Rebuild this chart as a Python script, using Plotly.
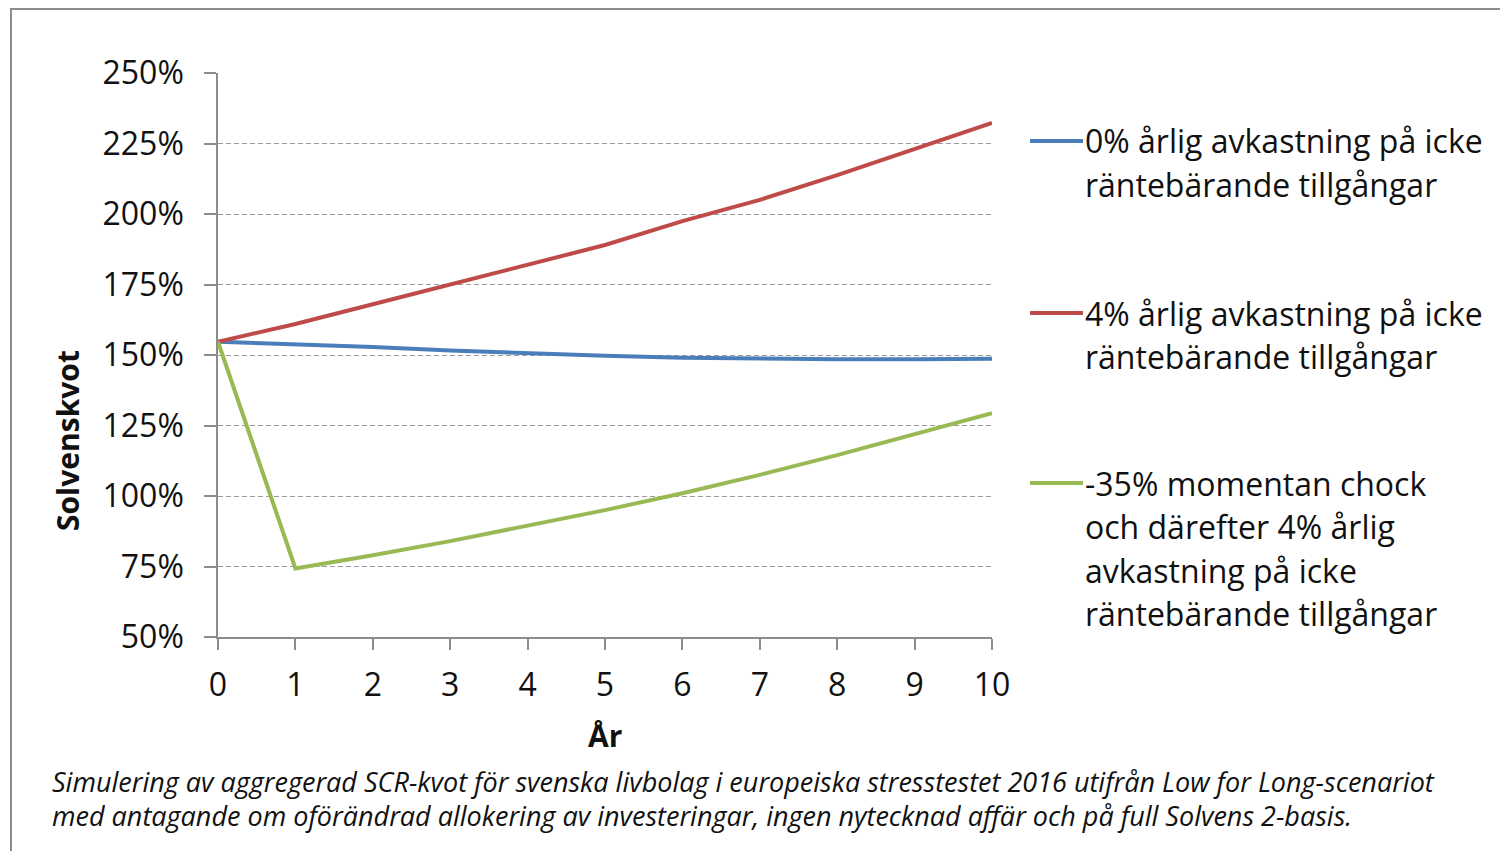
import plotly.graph_objects as go

# ---- data ----
years = [0, 1, 2, 3, 4, 5, 6, 7, 8, 9, 10]
scen_0pct = [154.7, 153.8, 152.8, 151.6, 150.6, 149.7, 149.0, 148.6, 148.5, 148.5, 148.7]
scen_4pct = [154.7, 161.0, 168.0, 175.0, 182.0, 189.0, 197.5, 205.0, 213.8, 223.0, 232.3]
scen_shock = [154.7, 74.3, 79.0, 84.0, 89.5, 95.0, 101.0, 107.5, 114.5, 121.8, 129.4]

series_names = [
    ["0% årlig avkastning på icke", "räntebärande tillgångar"],
    ["4% årlig avkastning på icke", "räntebärande tillgångar"],
    ["-35% momentan chock", "och därefter 4% årlig", "avkastning på icke", "räntebärande tillgångar"],
]
series_values = [scen_0pct, scen_4pct, scen_shock]
series_colors = ["#4A7EBB", "#BE4B48", "#98B954"]

y_ticks = [50, 75, 100, 125, 150, 175, 200, 225, 250]
y_ticklabels = [f"{v}%" for v in y_ticks]

x_title = "År"
y_title = "Solvenskvot"
caption_lines = [
    "Simulering av aggregerad SCR-kvot för svenska livbolag i europeiska stresstestet 2016 utifrån Low for Long-scenariot",
    "med antagande om oförändrad allokering av investeringar, ingen nytecknad affär och på full Solvens 2-basis.",
]

# ---- layout geometry (page pixels; page body has an 8px margin) ----
OFF = 8
W, H = 1508 - OFF, 851 - OFF
L, R, T, B = 218 - OFF, 992 - OFF, 73 - OFF, 637 - OFF
pw, ph = R - L, B - T


def px(x):
    return (x - OFF - L) / pw


def py(y):
    return (B - (y - OFF)) / ph


FONT = "'Open Sans', Lato, sans-serif"
TXT = "#111111"

fig = go.Figure()
for name, vals, col in zip(series_names, series_values, series_colors):
    fig.add_trace(go.Scatter(
        x=years, y=vals, mode="lines", name=" ".join(name),
        line=dict(color=col, width=4), showlegend=False,
    ))

shapes = []
annotations = []

# Legend (manual, to match line spacing)
legend_first_y = [141, 313, 483]
line_gap = 43.5
for lines, col, y0 in zip(series_names, series_colors, legend_first_y):
    shapes.append(dict(type="line", xref="paper", yref="paper",
                       x0=px(1030), x1=px(1083), y0=py(y0), y1=py(y0),
                       line=dict(color=col, width=4)))
    for i, ln in enumerate(lines):
        annotations.append(dict(
            text=ln, xref="paper", yref="paper", x=px(1083), y=py(y0 + i * line_gap),
            xanchor="left", yanchor="middle", showarrow=False,
            font=dict(family=FONT, size=32, color=TXT),
        ))

# Axis titles
annotations.append(dict(text=f"<b>{x_title}</b>", xref="paper", yref="paper",
                        x=px(605), y=py(735), xanchor="center", yanchor="middle",
                        showarrow=False, font=dict(family=FONT, size=30, color=TXT)))
annotations.append(dict(text=f"<b>{y_title}</b>", xref="paper", yref="paper",
                        x=px(67), y=py(441), xanchor="center", yanchor="middle",
                        textangle=-90, showarrow=False,
                        font=dict(family=FONT, size=30, color=TXT)))

# Caption
for i, ln in enumerate(caption_lines):
    annotations.append(dict(text=f"<i>{ln}</i>", xref="paper", yref="paper",
                            x=px(50), y=py(781 + i * 34), xanchor="left", yanchor="middle",
                            showarrow=False, font=dict(family=FONT, size=27, color=TXT)))

# Frame
frame_col = "#8c8c8c"
shapes.append(dict(type="line", xref="paper", yref="paper", x0=px(10), x1=px(1515),
                   y0=py(9), y1=py(9), line=dict(color=frame_col, width=2)))
shapes.append(dict(type="line", xref="paper", yref="paper", x0=px(11), x1=px(11),
                   y0=py(9), y1=py(860), line=dict(color=frame_col, width=2)))

axis_col = "#8c8c8c"
fig.update_layout(
    width=W, height=H,
    margin=dict(l=L, r=W - R, t=T, b=H - B),
    paper_bgcolor="white", plot_bgcolor="white",
    font=dict(family=FONT, color=TXT),
    shapes=shapes, annotations=annotations,
    xaxis=dict(range=[0, 10], tickmode="array", tickvals=years,
               ticks="outside", ticklen=11, tickcolor=axis_col, tickwidth=1.5,
               showline=True, linecolor=axis_col, linewidth=1.5,
               showgrid=False, zeroline=False,
               tickfont=dict(family=FONT, size=32, color=TXT),
               ticklabelstandoff=8),
    yaxis=dict(range=[50, 250], tickmode="array", tickvals=y_ticks, ticktext=y_ticklabels,
               ticks="outside", ticklen=12, tickcolor=axis_col, tickwidth=1.5,
               showline=True, linecolor=axis_col, linewidth=1.5,
               showgrid=True, gridcolor="#9a9a9a", gridwidth=1, griddash="5px,3px",
               zeroline=False,
               tickfont=dict(family=FONT, size=32, color=TXT),
               ticklabelstandoff=14),
)

fig.write_html("out.html")
